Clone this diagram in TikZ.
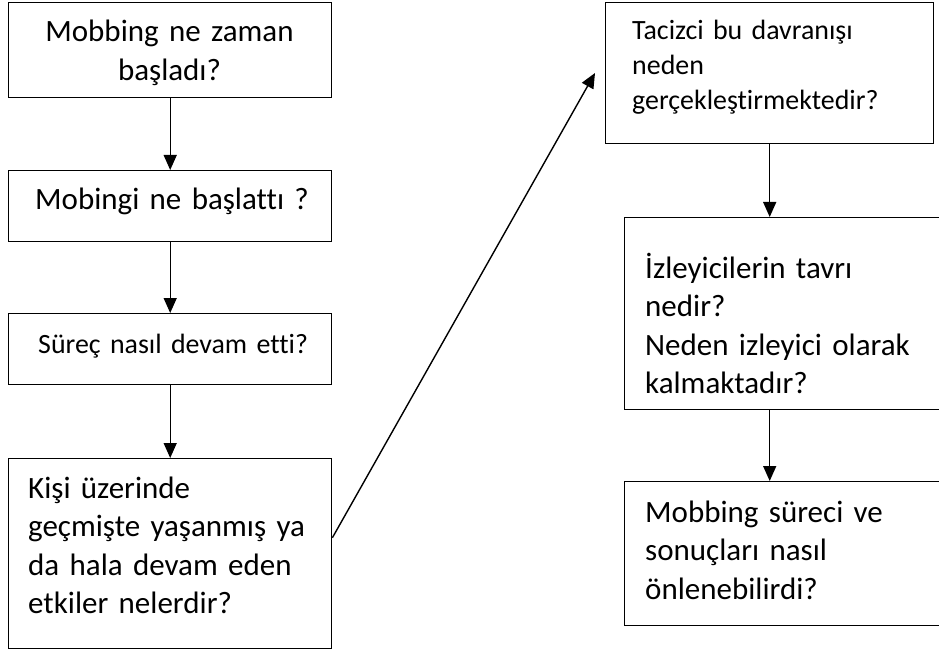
\documentclass[tikz,border=0pt]{standalone}
\usepackage{fontspec}
\setmainfont{Carlito}[Ligatures={NoCommon,NoContextual}]
\usetikzlibrary{arrows.meta,calc}
\tikzset{
  box/.style={draw=black, line width=1.4pt, rectangle, inner sep=0pt, anchor=north west},
  conn/.style={draw=black, line width=1.4pt, -{Triangle[width=13pt,length=15pt]}},
  txt/.style={inner sep=0pt, anchor=base west, align=left, text width=300pt},
  bigfont/.style={font=\fontsize{31}{38.6}\selectfont},
  midfont/.style={font=\fontsize{27.9}{34.7}\selectfont},
}
\begin{document}
\begin{tikzpicture}[x=1pt,y=-1pt]
\useasboundingbox (0,0) rectangle (939,655);
% boxes
\node[box, minimum width=323pt, minimum height=95pt] (b1) at (8,2) {};
\node[box, minimum width=323pt, minimum height=71pt] (b2) at (8,170) {};
\node[box, minimum width=323pt, minimum height=71pt] (b3) at (8,313) {};
\node[box, minimum width=323pt, minimum height=190pt] (b4) at (8,458) {};
\node[box, minimum width=328pt, minimum height=141pt] (b5) at (605,2) {};
\node[box, minimum width=321pt, minimum height=192pt] (b6) at (624,217) {};
\node[box, minimum width=321pt, minimum height=144pt] (b7) at (624,481) {};
% texts
\node[bigfont, inner sep=0pt, anchor=base, align=center, text width=320pt] (t1) at (169.5,42) {Mobbing ne zaman\\başladı?};
\node[txt, bigfont] (t2) at (35,210) {Mobingi ne başlattı ?};
\node[txt, midfont] (t3) at (38,353) {Süreç nasıl devam etti?};
\node[txt, bigfont] (t4) at (28,498) {Kişi üzerinde\\geçmişte yaşanmış ya\\da hala devam eden\\etkiler nelerdir?};
\node[txt, midfont] (t5) at (632,40) {Tacizci bu davranışı\\neden\\gerçekleştirmektedir?};
\node[txt, bigfont] (t6) at (645,278) {İzleyicilerin tavrı\\nedir?\\Neden izleyici olarak\\kalmaktadır?};
\node[txt, bigfont] (t7) at (645,522) {Mobbing süreci ve\\sonuçları nasıl\\önlenebilirdi?};
% connectors
\draw[conn] (b1.south) -- (b2.north);
\draw[conn] (b2.south) -- (b3.north);
\draw[conn] (b3.south) -- (b4.north);
\coordinate (tip) at (595,73);
\draw[conn] ([yshift=16pt]b4.east) -- (tip);
\draw[conn] (b5.south) -- (b5.south |- b6.north);
\draw[conn] (b6.south -| b5.south) -- (b7.north -| b5.south);
\end{tikzpicture}
\end{document}
